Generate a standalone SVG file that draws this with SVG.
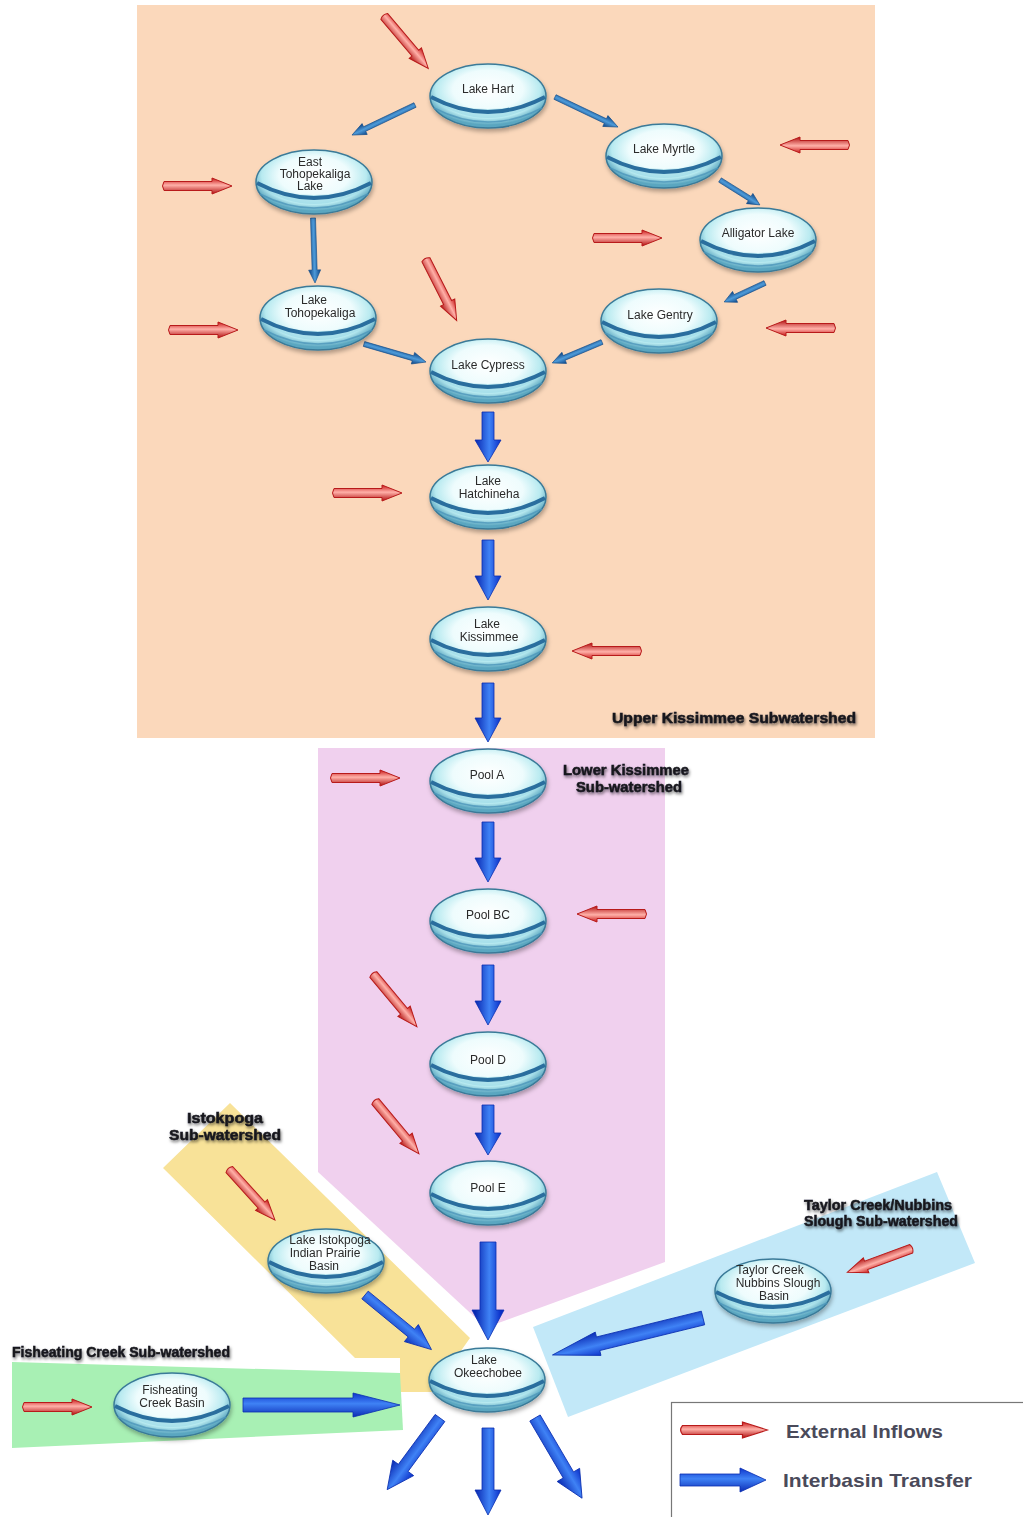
<svg xmlns="http://www.w3.org/2000/svg" xmlns:xlink="http://www.w3.org/1999/xlink" width="1023" height="1517" viewBox="0 0 1023 1517">
<style>
.lbl{font-family:"Liberation Sans",Arial,sans-serif;font-size:12px;fill:#2a2a2a;text-anchor:middle}
.reg{font-family:"Liberation Sans",Arial,sans-serif;font-size:15px;font-weight:bold;fill:#15151c;stroke:#15151c;stroke-width:0.5;filter:url(#tshadow)}
.leg{font-family:"Liberation Sans",Arial,sans-serif;font-size:19px;font-weight:bold;fill:#4a4a5a}
.red{fill:url(#redG);stroke:#b81a1a;stroke-width:1}
.thick{fill:url(#blueG);stroke:#0a2fb0;stroke-width:0.8}
.thin{fill:url(#thinG);stroke:#0d4a88;stroke-width:0.6}
</style>
<defs>
<radialGradient id="nodeG" cx="0.5" cy="0.4" r="0.55">
<stop offset="0" stop-color="#ffffff"/>
<stop offset="0.55" stop-color="#eefcfd"/>
<stop offset="0.82" stop-color="#b8eaf0"/>
<stop offset="1" stop-color="#5aa6c0"/>
</radialGradient>
<linearGradient id="redG" x1="0" y1="-8" x2="0" y2="8" gradientUnits="userSpaceOnUse">
<stop offset="0" stop-color="#c81818"/>
<stop offset="0.45" stop-color="#ffb0a8"/>
<stop offset="1" stop-color="#b01010"/>
</linearGradient>
<linearGradient id="blueG" x1="0" y1="-13" x2="0" y2="13" gradientUnits="userSpaceOnUse">
<stop offset="0" stop-color="#0a2ec8"/>
<stop offset="0.45" stop-color="#3f82f5"/>
<stop offset="1" stop-color="#0826b0"/>
</linearGradient>
<linearGradient id="thinG" x1="0" y1="-6" x2="0" y2="6" gradientUnits="userSpaceOnUse">
<stop offset="0" stop-color="#0c4588"/>
<stop offset="0.5" stop-color="#4d9ad8"/>
<stop offset="1" stop-color="#0c4080"/>
</linearGradient>
<filter id="nshadow" x="-20%" y="-20%" width="140%" height="150%">
<feDropShadow dx="1" dy="3" stdDeviation="2" flood-color="#000" flood-opacity="0.3"/>
</filter>
<filter id="tshadow" x="-10%" y="-40%" width="120%" height="200%">
<feDropShadow dx="1" dy="2" stdDeviation="1.5" flood-color="#000" flood-opacity="0.55"/>
</filter>
<g id="nodeShape">
<ellipse cx="0" cy="0" rx="58" ry="32" fill="url(#nodeG)" stroke="#3a7a98" stroke-width="1.5"/>
<path d="M-56,4 Q0,40 56,4 Q0,22 -56,4 Z" fill="#9ad8e6" opacity="0.6"/>
<path d="M-57,1 Q0,31 57,1" fill="none" stroke="#2a6e9e" stroke-width="4"/>
<path d="M-54,12 Q0,40 54,12" fill="none" stroke="#4e96ba" stroke-width="1.5" opacity="0.8"/>
</g>
<path id="ra" class="red" d="M2,-4.5 L50,-4.5 L50,-8 L70,0 L50,8 L50,4.5 L2,4.5 Q-1,0 2,-4.5 Z"/>
</defs>

<rect width="1023" height="1517" fill="#ffffff"/>

<g id="regions">
<rect x="137" y="5" width="738" height="733" fill="#fbd8bb"/>
<polygon points="318,748 665,748 665,1262 490,1326 480,1322 318,1172" fill="#f0d0ee"/>
<polygon points="163,1168 230,1103 470,1338 432,1392 400,1392 400,1358 355,1358" fill="#f8e298"/>
<polygon points="12,1362 400,1373 403,1430 12,1448" fill="#a8f0b4"/>
<polygon points="533,1327 937,1172 975,1263 568,1417" fill="#c2e8f8"/>
</g>

<g id="region-labels">
<text class="reg" x="856" y="723" text-anchor="end" textLength="244" lengthAdjust="spacingAndGlyphs">Upper Kissimmee Subwatershed</text>
<text class="reg" x="626" y="775" text-anchor="middle" textLength="126" lengthAdjust="spacingAndGlyphs">Lower Kissimmee</text>
<text class="reg" x="629" y="792" text-anchor="middle" textLength="106" lengthAdjust="spacingAndGlyphs">Sub-watershed</text>
<text class="reg" x="225" y="1123" text-anchor="middle" textLength="76" lengthAdjust="spacingAndGlyphs">Istokpoga</text>
<text class="reg" x="225" y="1140" text-anchor="middle" textLength="112" lengthAdjust="spacingAndGlyphs">Sub-watershed</text>
<text class="reg" x="878" y="1210" text-anchor="middle" textLength="148" lengthAdjust="spacingAndGlyphs">Taylor Creek/Nubbins</text>
<text class="reg" x="881" y="1226" text-anchor="middle" textLength="154" lengthAdjust="spacingAndGlyphs">Slough Sub-watershed</text>
<text class="reg" x="12" y="1357" textLength="218" lengthAdjust="spacingAndGlyphs">Fisheating Creek Sub-watershed</text>
</g>

<g id="connectors">
<g transform="translate(415,105) rotate(154.5)"><path class="thin" d="M0,-2.5 L55.8,-2.5 L55.8,-6 L69.8,0 L55.8,6 L55.8,2.5 L0,2.5 Z"/></g>
<g transform="translate(555,97) rotate(25.5)"><path class="thin" d="M0,-2.5 L55.8,-2.5 L55.8,-6 L69.8,0 L55.8,6 L55.8,2.5 L0,2.5 Z"/></g>
<g transform="translate(720,180) rotate(32)"><path class="thin" d="M0,-2.5 L35,-2.5 L35,-6 L47,0 L35,6 L35,2.5 L0,2.5 Z"/></g>
<g transform="translate(765,283) rotate(155.1)"><path class="thin" d="M0,-2.5 L33,-2.5 L33,-6 L45,0 L33,6 L33,2.5 L0,2.5 Z"/></g>
<g transform="translate(602,342) rotate(157.2)"><path class="thin" d="M0,-2.5 L41,-2.5 L41,-6 L54,0 L41,6 L41,2.5 L0,2.5 Z"/></g>
<g transform="translate(313,218) rotate(88.2)"><path class="thin" d="M0,-2.5 L52,-2.5 L52,-6 L65,0 L52,6 L52,2.5 L0,2.5 Z"/></g>
<g transform="translate(364,344) rotate(16.2)"><path class="thin" d="M0,-2.5 L51,-2.5 L51,-6 L64.6,0 L51,6 L51,2.5 L0,2.5 Z"/></g>

<g transform="translate(488,412) rotate(90)"><path class="thick" d="M0,-6 L28,-6 L28,-13 L50,0 L28,13 L28,6 L0,6 Z"/></g>
<g transform="translate(488,540) rotate(90)"><path class="thick" d="M0,-6 L36,-6 L36,-13 L60,0 L36,13 L36,6 L0,6 Z"/></g>
<g transform="translate(488,683) rotate(90)"><path class="thick" d="M0,-6 L35,-6 L35,-13 L59,0 L35,13 L35,6 L0,6 Z"/></g>
<g transform="translate(488,822) rotate(90)"><path class="thick" d="M0,-6 L36,-6 L36,-13 L60,0 L36,13 L36,6 L0,6 Z"/></g>
<g transform="translate(488,965) rotate(90)"><path class="thick" d="M0,-6 L36,-6 L36,-13 L60,0 L36,13 L36,6 L0,6 Z"/></g>
<g transform="translate(488,1105) rotate(90)"><path class="thick" d="M0,-6 L28,-6 L28,-13 L50,0 L28,13 L28,6 L0,6 Z"/></g>
<g transform="translate(488,1242) rotate(90)"><path class="thick" d="M0,-8 L68,-8 L68,-16 L98,0 L68,16 L68,8 L0,8 Z"/></g>
<g transform="translate(365,1295) rotate(39.4)"><path class="thick" d="M0,-5 L60,-5 L60,-11 L86,0 L60,11 L60,5 L0,5 Z"/></g>
<g transform="translate(243,1405) rotate(0)"><path class="thick" d="M0,-7 L110,-7 L110,-12 L157,0 L110,12 L110,7 L0,7 Z"/></g>
<g transform="translate(703,1318) rotate(166.2)"><path class="thick" d="M0,-7 L108,-7 L108,-12 L155,0 L108,12 L108,7 L0,7 Z"/></g>
<g transform="translate(440,1418) rotate(126.4)"><path class="thick" d="M0,-6 L62,-6 L62,-13 L89,0 L62,13 L62,6 L0,6 Z"/></g>
<g transform="translate(488,1428) rotate(90)"><path class="thick" d="M0,-6 L62,-6 L62,-13 L87,0 L62,13 L62,6 L0,6 Z"/></g>
<g transform="translate(535,1418) rotate(59.6)"><path class="thick" d="M0,-6 L66,-6 L66,-13 L93,0 L66,13 L66,6 L0,6 Z"/></g>

<use href="#ra" transform="translate(383,15) rotate(49.7)"/>
<use href="#ra" transform="translate(850,145) rotate(180)"/>
<use href="#ra" transform="translate(162,186)"/>
<use href="#ra" transform="translate(592,238)"/>
<use href="#ra" transform="translate(168,330)"/>
<use href="#ra" transform="translate(836,328) rotate(180)"/>
<use href="#ra" transform="translate(425,258) rotate(63.1)"/>
<use href="#ra" transform="translate(332,493)"/>
<use href="#ra" transform="translate(642,651) rotate(180)"/>
<use href="#ra" transform="translate(330,778)"/>
<use href="#ra" transform="translate(647,914) rotate(180)"/>
<use href="#ra" transform="translate(372,973) rotate(50.1)"/>
<use href="#ra" transform="translate(374,1100) rotate(50.1)"/>
<use href="#ra" transform="translate(228,1168) rotate(47.9)"/>
<use href="#ra" transform="translate(913,1248) rotate(159.7)"/>
<use href="#ra" transform="translate(22,1407)"/>
</g>

<g id="node-lake-hart" filter="url(#nshadow)"><use href="#nodeShape" transform="translate(488,96)"/><text class="lbl" x="488" y="93">Lake Hart</text></g>
<g id="node-lake-myrtle" filter="url(#nshadow)"><use href="#nodeShape" transform="translate(664,156)"/><text class="lbl" x="664" y="153">Lake Myrtle</text></g>
<g id="node-east-tohopekaliga" filter="url(#nshadow)"><use href="#nodeShape" transform="translate(314,182)"/><text class="lbl" x="310" y="166">East</text><text class="lbl" x="315" y="178">Tohopekaliga</text><text class="lbl" x="310" y="190">Lake</text></g>
<g id="node-alligator-lake" filter="url(#nshadow)"><use href="#nodeShape" transform="translate(758,240)"/><text class="lbl" x="758" y="237">Alligator Lake</text></g>
<g id="node-lake-tohopekaliga" filter="url(#nshadow)"><use href="#nodeShape" transform="translate(318,318)"/><text class="lbl" x="314" y="304">Lake</text><text class="lbl" x="320" y="317">Tohopekaliga</text></g>
<g id="node-lake-gentry" filter="url(#nshadow)"><use href="#nodeShape" transform="translate(659,321)"/><text class="lbl" x="660" y="319">Lake Gentry</text></g>
<g id="node-lake-cypress" filter="url(#nshadow)"><use href="#nodeShape" transform="translate(488,371)"/><text class="lbl" x="488" y="369">Lake Cypress</text></g>
<g id="node-lake-hatchineha" filter="url(#nshadow)"><use href="#nodeShape" transform="translate(488,497)"/><text class="lbl" x="488" y="485">Lake</text><text class="lbl" x="489" y="498">Hatchineha</text></g>
<g id="node-lake-kissimmee" filter="url(#nshadow)"><use href="#nodeShape" transform="translate(488,639)"/><text class="lbl" x="487" y="628">Lake</text><text class="lbl" x="489" y="641">Kissimmee</text></g>
<g id="node-pool-a" filter="url(#nshadow)"><use href="#nodeShape" transform="translate(488,781)"/><text class="lbl" x="487" y="779">Pool A</text></g>
<g id="node-pool-bc" filter="url(#nshadow)"><use href="#nodeShape" transform="translate(488,921)"/><text class="lbl" x="488" y="919">Pool BC</text></g>
<g id="node-pool-d" filter="url(#nshadow)"><use href="#nodeShape" transform="translate(488,1064)"/><text class="lbl" x="488" y="1064">Pool D</text></g>
<g id="node-pool-e" filter="url(#nshadow)"><use href="#nodeShape" transform="translate(488,1193)"/><text class="lbl" x="488" y="1192">Pool E</text></g>
<g id="node-lake-istokpoga" filter="url(#nshadow)"><use href="#nodeShape" transform="translate(326,1261)"/><text class="lbl" x="330" y="1244">Lake Istokpoga</text><text class="lbl" x="325" y="1257">Indian Prairie</text><text class="lbl" x="324" y="1270">Basin</text></g>
<g id="node-lake-okeechobee" filter="url(#nshadow)"><use href="#nodeShape" transform="translate(487,1380)"/><text class="lbl" x="484" y="1364">Lake</text><text class="lbl" x="488" y="1377">Okeechobee</text></g>
<g id="node-fisheating-creek" filter="url(#nshadow)"><use href="#nodeShape" transform="translate(172,1405)"/><text class="lbl" x="170" y="1394">Fisheating</text><text class="lbl" x="172" y="1407">Creek Basin</text></g>
<g id="node-taylor-creek" filter="url(#nshadow)"><use href="#nodeShape" transform="translate(773,1291)"/><text class="lbl" x="770" y="1274">Taylor Creek</text><text class="lbl" x="778" y="1287">Nubbins Slough</text><text class="lbl" x="774" y="1300">Basin</text></g>

<g id="legend">
<rect x="671.5" y="1402.5" width="360" height="120" fill="#ffffff" stroke="#777" stroke-width="1.2"/>
<use href="#ra" transform="translate(680,1430) scale(1.25,1)"/>
<text class="leg" x="786" y="1438" textLength="157" lengthAdjust="spacingAndGlyphs">External Inflows</text>
<path class="thick" transform="translate(680,1480)" d="M0,-6 L60,-6 L60,-12 L86,0 L60,12 L60,6 L0,6 Z"/>
<text class="leg" x="783" y="1487" textLength="189" lengthAdjust="spacingAndGlyphs">Interbasin Transfer</text>
</g>
</svg>
